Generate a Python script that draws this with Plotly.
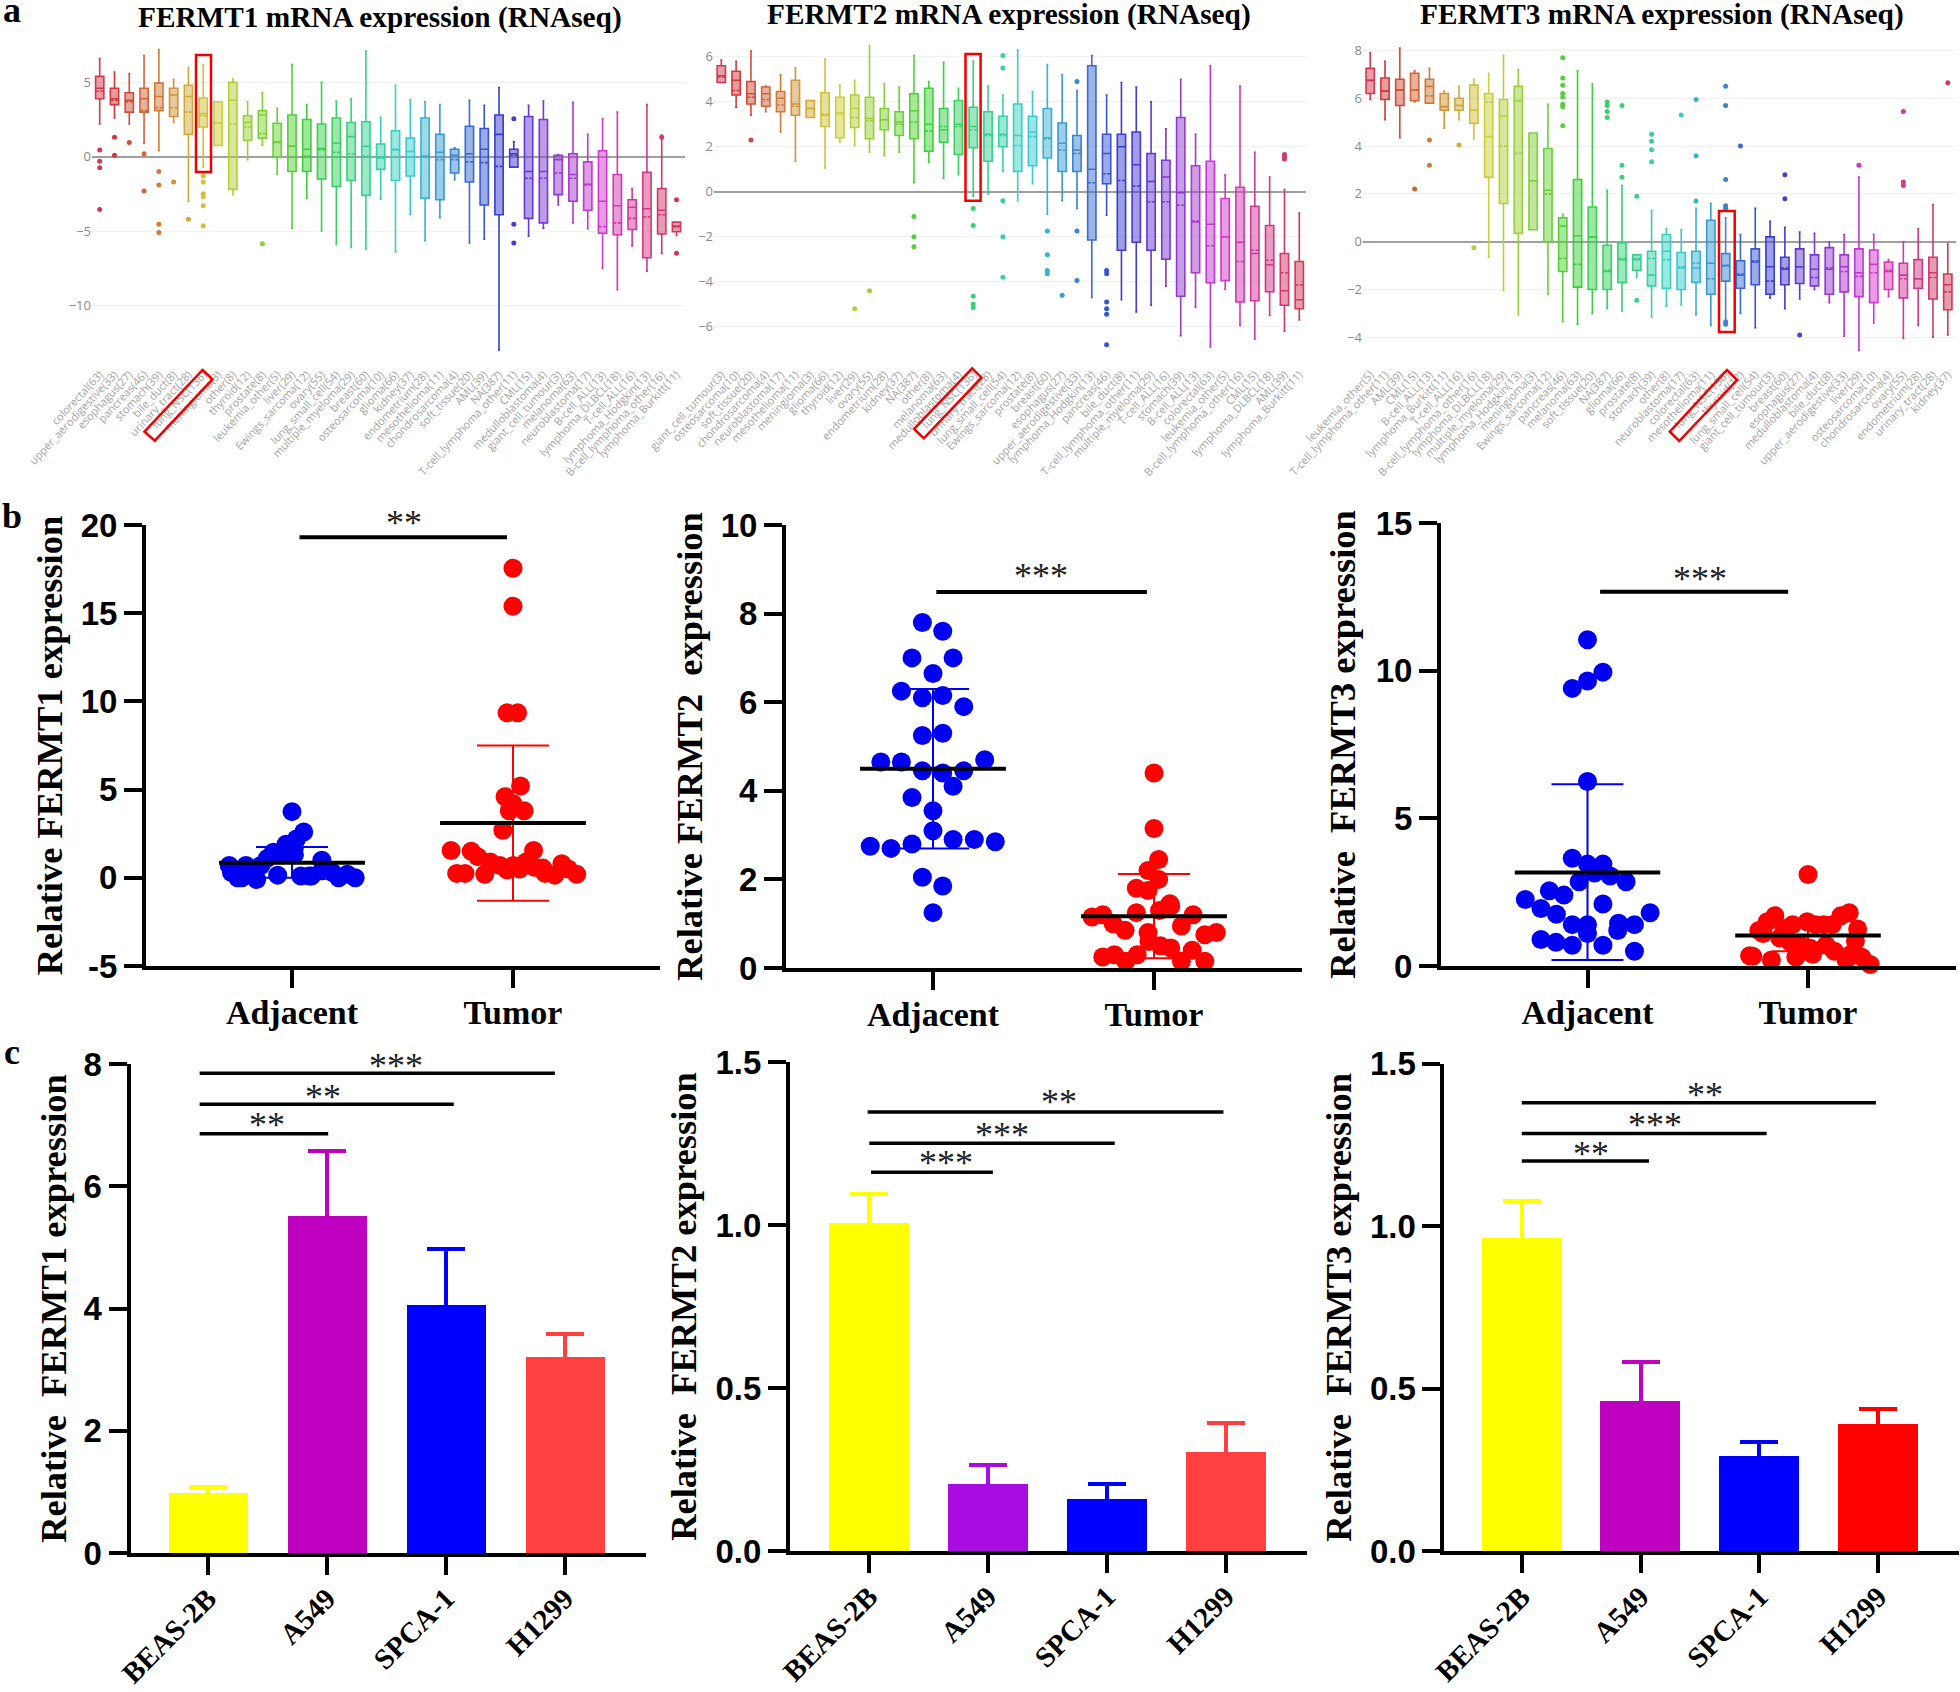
import plotly.graph_objects as go

W, H = 1960, 1692
SERIF = "Liberation Serif"
SANS = "Liberation Sans"

# ---------- panel a data ----------
a1_labels = ["colorectal(63)","upper_aerodigestive(33)","esophagus(27)","pancreas(46)","stomach(39)","bile_duct(8)","urinary_tract(28)","lung_NSC(136)","meningioma(3)","other(8)","thyroid(12)","prostate(8)","leukemia_other(5)","liver(29)","Ewings_sarcoma(12)","ovary(55)","lung_small_cell(54)","multiple_myeloma(29)","breast(60)","osteosarcoma(10)","glioma(66)","kidney(37)","endometrium(28)","mesothelioma(11)","chondrosarcoma(4)","soft_tissue(20)","AML(39)","NA(387)","T-cell_lymphoma_other(11)","CML(15)","medulloblastoma(4)","giant_cell_tumour(3)","melanoma(63)","neuroblastoma(17)","B-cell_ALL(13)","lymphoma_DLBCL(18)","T-cell_ALL(16)","lymphoma_Hodgkin(13)","B-cell_lymphoma_other(16)","lymphoma_Burkitt(11)"]
a1_upper = [6.6,5.7,5.6,6.8,7.2,5.2,6.0,6.2,3.7,5.25,3.7,4.3,3.25,6.2,3.5,5.0,3.75,3.9,7.1,2.65,4.8,3.85,3.7,3.5,0.6,3.8,3.45,4.65,1.0,3.45,3.75,0.15,3.65,1.5,2.55,3.0,-2.15,3.5,1.45,-4.4]
a1_q3 = [5.4,4.6,4.3,4.6,4.95,4.6,4.8,3.95,3.7,5.0,2.75,3.1,2.25,2.8,2.5,2.2,2.6,2.3,2.35,0.85,1.75,1.25,2.6,1.5,0.5,2.05,1.9,2.8,0.5,2.7,2.5,0.1,0.2,-0.35,0.4,-1.2,-2.9,-1.05,-2.15,-4.4]
a1_median = [4.6,3.9,3.8,3.9,4.05,4.15,4.05,2.9,2.25,3.8,2.3,2.8,1.0,0.7,0.5,0.55,0.9,1.35,0.7,0.0,0.5,0.35,0.05,0.3,0.1,0.2,0.5,1.5,0.2,-1.0,-1.0,-0.2,-1.2,-1.85,-3.0,-3.3,-3.4,-3.5,-3.6,-4.7]
a1_mean = [4.4,3.8,3.7,3.1,3.3,3.3,3.0,2.75,2.25,2.2,2.0,1.55,0.95,0.7,0.05,0.45,0.3,0.2,0.05,-0.1,0.45,0.0,0.0,-0.2,-0.2,-0.35,-0.4,-0.65,0.1,-1.45,-1.45,-1.1,-1.45,-1.9,-4.7,-4.45,-4.15,-4.05,-3.9,-4.65]
a1_q1 = [3.9,3.5,3.0,3.0,3.1,2.7,1.5,2.0,0.75,-2.2,1.1,1.25,-0.05,-1.0,-1.0,-1.5,-2.0,-1.6,-2.6,-0.85,-1.6,-1.3,-2.8,-2.9,-1.1,-1.7,-3.25,-3.9,-0.7,-4.15,-4.45,-2.55,-3.0,-3.6,-5.15,-5.25,-4.9,-6.8,-5.2,-5.05]
a1_lower = [2.2,2.6,2.2,0.9,0.4,2.3,-3.0,-0.7,0.75,-2.55,-0.2,0.75,-1.2,-4.8,-2.8,-5.0,-5.9,-6.1,-6.2,-2.85,-6.4,-3.9,-5.65,-4.1,-1.55,-5.8,-5.55,-13.0,-0.7,-5.35,-4.8,-3.25,-4.45,-4.85,-7.5,-8.95,-6.0,-7.7,-6.5,-5.3]
a1_out_idx = [0,0,0,0,1,1,2,3,3,4,4,4,4,5,6,7,7,7,7,7,7,11,28,28,28,38,39,39]
a1_out_val = [0.45,-0.3,-0.75,-3.55,1.3,0.1,0.95,0.2,-2.3,-1.0,-1.9,-4.55,-5.1,-1.7,-4.2,-1.3,-1.7,-2.5,-2.7,-3.3,-4.65,-5.85,2.55,-4.55,-5.8,1.3,-2.9,-6.5]

a2_labels = ["giant_cell_tumour(3)","osteosarcoma(10)","soft_tissue(20)","chondrosarcoma(4)","neuroblastoma(17)","mesothelioma(11)","meningioma(3)","glioma(66)","thyroid(12)","liver(29)","ovary(55)","endometrium(28)","kidney(37)","NA(387)","other(8)","melanoma(63)","medulloblastoma(4)","lung_NSC(136)","urinary_tract(28)","lung_small_cell(54)","Ewings_sarcoma(12)","prostate(8)","breast(60)","esophagus(27)","upper_aerodigestive(33)","lymphoma_Hodgkin(13)","pancreas(46)","bile_duct(8)","T-cell_lymphoma_other(11)","multiple_myeloma(29)","T-cell_ALL(16)","stomach(39)","B-cell_ALL(13)","colorectal(63)","leukemia_other(5)","B-cell_lymphoma_other(16)","CML(15)","lymphoma_DLBCL(18)","AML(39)","lymphoma_Burkitt(11)"]
a2_upper = [5.85,5.8,6.25,4.7,5.2,5.5,4.05,5.9,4.75,4.95,6.5,4.8,4.65,6.05,4.9,5.75,4.6,5.8,4.7,4.3,6.3,4.45,5.65,5.2,4.5,6.05,4.3,4.85,4.65,4.0,2.8,5.0,2.55,5.6,0.75,4.7,1.75,0.65,0.1,-0.95]
a2_q3 = [5.6,5.35,4.9,4.65,4.45,4.95,4.05,4.4,4.2,4.3,4.2,3.7,3.55,4.35,4.6,3.7,4.05,3.75,3.55,3.35,3.9,3.35,3.7,3.05,2.5,5.6,2.55,2.55,2.65,1.7,1.4,3.3,1.15,1.35,-0.3,0.2,-0.65,-1.5,-2.75,-3.1]
a2_median = [5.15,4.95,4.35,4.35,4.15,3.9,3.7,3.4,3.5,3.7,3.25,3.2,3.1,3.6,3.0,2.75,3.0,2.9,2.55,2.55,2.5,2.65,2.4,2.15,1.85,1.0,1.7,2.0,1.2,0.45,0.65,-0.05,-1.35,-1.45,-2.0,-2.25,-2.75,-3.25,-4.4,-4.8]
a2_mean = [5.1,4.5,4.2,4.1,3.85,3.8,3.7,3.45,3.45,3.3,3.15,3.2,3.0,3.1,2.7,2.9,2.9,2.75,2.5,2.5,2.05,2.45,2.35,1.85,1.7,0.4,0.8,0.5,0.25,-0.45,-0.45,-0.6,-1.3,-2.4,-2.0,-3.1,-2.6,-3.05,-3.6,-4.15]
a2_q1 = [4.85,4.3,3.9,3.8,3.55,3.4,3.3,2.9,2.4,2.85,2.35,2.75,2.5,2.35,1.8,2.2,1.65,1.95,1.35,2.0,0.9,1.15,1.5,0.9,0.9,-2.15,0.35,-2.6,-2.25,-2.6,-3.0,-4.65,-3.6,-4.05,-3.95,-4.9,-4.85,-4.45,-5.05,-5.2]
a2_lower = [4.85,3.75,3.4,3.55,2.65,1.35,3.3,1.05,2.2,2.05,1.75,1.6,1.75,0.4,1.3,0.6,0.75,-0.2,-0.1,0.9,-0.4,0.35,-1.0,-0.4,-0.75,-4.7,-1.05,-4.8,-5.35,-5.05,-4.2,-6.4,-5.15,-6.9,-4.35,-5.95,-6.55,-5.5,-6.2,-5.7]
a2_out_idx = [2,9,10,13,13,13,17,17,17,17,17,19,19,19,19,19,22,22,22,22,23,24,24,24,26,26,26,26,26,26,38,38,38]
a2_out_val = [2.3,-5.2,-4.4,-1.1,-2.0,-2.45,-0.75,-1.5,-4.65,-5.0,-5.15,6.05,5.5,-0.4,-2.0,-3.8,-1.75,-2.8,-3.5,-3.65,-4.6,4.9,-1.75,-3.95,-3.5,-3.65,-4.9,-5.2,-5.45,-6.8,1.65,1.55,1.45]

a3_labels = ["leukemia_other(5)","T-cell_lymphoma_other(11)","AML(39)","CML(15)","B-cell_ALL(13)","lymphoma_Burkitt(11)","T-cell_ALL(16)","B-cell_lymphoma_other(16)","lymphoma_DLBCL(18)","multiple_myeloma(29)","lymphoma_Hodgkin(13)","meningioma(3)","Ewings_sarcoma(12)","pancreas(46)","melanoma(63)","soft_tissue(20)","NA(387)","glioma(66)","prostate(8)","stomach(39)","other(8)","neuroblastoma(17)","colorectal(63)","mesothelioma(11)","lung_NSC(136)","thyroid(12)","lung_small_cell(54)","giant_cell_tumour(3)","breast(60)","esophagus(27)","medulloblastoma(4)","bile_duct(8)","upper_aerodigestive(33)","liver(29)","osteosarcoma(10)","chondrosarcoma(4)","ovary(55)","endometrium(28)","urinary_tract(28)","kidney(37)"]
a3_upper = [7.9,7.55,8.1,7.15,7.25,6.3,6.5,6.8,7.05,7.8,7.2,4.55,5.75,1.15,7.15,6.6,2.15,2.35,-0.55,1.3,0.55,0.5,1.4,1.6,1.0,0.3,1.4,0.85,0.6,0.4,0.35,0.0,0.3,2.7,0.3,-0.75,0.0,0.55,1.55,-0.1]
a3_q3 = [7.25,6.85,6.8,7.05,6.8,6.2,6.0,6.55,6.2,5.95,6.5,4.55,3.9,1.0,2.6,1.45,-0.15,-0.05,-0.55,-0.4,0.3,-0.45,-0.4,0.9,-0.5,-0.8,-0.3,0.2,-0.65,-0.3,-0.55,-0.25,-0.55,-0.3,-0.35,-0.85,-0.9,-0.75,-0.65,-1.35]
a3_median = [6.75,6.3,6.35,6.35,6.5,5.65,5.7,5.5,4.4,5.25,5.9,2.55,2.15,0.65,0.25,0.2,-1.25,-0.75,-0.75,-1.4,-0.4,-1.1,-1.1,-0.9,-1.0,-1.4,-0.85,-1.05,-1.15,-1.05,-1.15,-1.15,-1.05,-1.3,-0.95,-1.25,-1.4,-1.55,-1.3,-1.8]
a3_mean = [6.75,6.3,6.35,6.35,6.1,5.65,5.7,5.5,5.85,4.0,3.7,2.55,2.0,-0.7,-0.95,0.2,-1.2,-0.7,-0.7,-0.7,-0.75,-1.05,-0.9,-1.55,-1.0,-1.35,-0.8,-1.65,-1.1,-1.05,-1.5,-1.1,-1.25,-1.45,-1.3,-1.2,-1.55,-1.55,-1.5,-2.1]
a3_q1 = [6.2,5.95,5.7,5.9,5.8,5.5,5.5,4.95,2.7,1.6,0.35,0.5,0.0,-1.25,-1.9,-2.0,-2.0,-1.7,-1.2,-1.85,-1.95,-2.0,-1.7,-2.2,-1.65,-1.95,-1.8,-2.2,-1.8,-1.75,-1.85,-2.2,-2.1,-2.3,-2.55,-2.0,-2.35,-1.95,-2.4,-2.85]
a3_lower = [5.95,5.1,4.35,5.85,5.8,4.75,5.1,4.3,-0.65,-2.05,-3.05,0.5,-2.2,-3.35,-3.45,-3.0,-2.8,-2.9,-1.5,-3.15,-2.7,-2.65,-3.05,-3.5,-3.3,-3.0,-3.6,-2.35,-2.8,-2.4,-2.0,-2.55,-3.95,-4.55,-3.4,-2.3,-4.05,-3.5,-4.0,-3.9]
a3_out_idx = [3,4,4,6,7,13,13,13,13,13,13,13,13,16,16,16,16,17,17,17,18,18,19,19,19,19,21,22,22,22,24,24,24,24,24,24,24,25,28,28,29,33,36,36,36,39]
a3_out_val = [2.2,4.25,3.2,4.05,-0.25,7.7,6.85,6.55,6.2,6.05,5.75,5.65,4.85,5.85,5.7,5.45,5.2,5.7,3.2,2.7,1.9,-2.45,4.5,4.2,3.85,3.35,5.3,5.95,3.6,1.7,6.5,5.7,2.6,1.5,1.4,-3.35,-3.45,4.0,2.8,1.8,-3.9,3.2,5.45,2.5,2.35,6.65]

# ---------- panel b data ----------
b_groups = ["Adjacent", "Tumor"]
b1_adj_off = [0,.053,.02,-.027,.011,-.084,.011,-.112,-.046,.135,-.284,-.208,-.16,-.274,-.246,-.227,-.16,-.065,.04,.078,.135,.183,.211,.25,.286,-.141,-.255,-.198,.088,-.008]
b1_adj_val = [3.75,2.6,2.2,1.9,1.7,1.45,1.3,1.1,1.3,1.0,.7,.7,.5,.3,0,0,-.1,.15,.1,.1,.4,.3,0,.2,0,.7,.2,.3,.1,1.6]
b1_tum_off = [0,0,-.027,.021,.034,-.036,0,-.017,.05,-.046,-.28,-.189,.093,-.16,-.103,.059,-.059,-.255,-.217,-.128,-.027,.03,.135,.097,.221,.25,.189,.145,.288,.002]
b1_tum_val = [17.55,15.4,9.35,9.35,5.2,4.6,4.2,3.8,3.8,2.7,1.55,1.5,1.55,1.2,.9,.9,.7,.25,.25,.2,.45,.5,.55,.6,.8,.5,.15,.25,.2,.7]
b1_mean = [0.85, 3.1]
b1_hi = [1.75, 7.5]
b1_lo = [0.0, -1.3]
b1_sig = [1.034, 1.973, 19.3]

b2_adj_off = [-.048,.044,-.095,.091,0,-.143,-.048,.044,.139,-.048,.044,-.236,-.143,.234,-.048,.044,.139,.091,-.095,0,0,.091,.187,.282,-.095,-.284,-.19,-.048,.044,0]
b2_adj_val = [7.8,7.6,7,7,6.65,6.25,6.1,6.15,5.9,5.25,5.3,4.65,4.65,4.7,4.45,4.4,4.45,4.1,3.85,3.55,3.1,2.9,2.9,2.85,2.8,2.75,2.7,2.05,1.85,1.25]
b2_tum_off = [0,0,.021,-.027,.021,-.08,-.027,.072,.025,-.08,-.28,-.232,-.185,-.131,.177,.124,-.027,.23,.282,-.023,.029,.076,-.232,-.179,-.128,-.076,.173,.124,.23,.076]
b2_tum_val = [4.4,3.15,2.45,2.2,2,1.8,1.75,1.45,1.3,1.25,1.15,1.2,1,.85,1.2,.95,.8,.75,.8,.6,.5,.45,.25,.3,.15,.3,.4,.15,.15,1.4]
b2_mean = [4.5, 1.17]
b2_hi = [6.3, 2.12]
b2_lo = [2.7, 0.22]
b2_sig = [1.015, 1.968, 8.49]

b3_adj_off = [0,.07,0,-.069,0,-.069,0,.07,.032,.103,-.038,.175,-.173,-.107,-.282,.07,-.211,-.141,.284,-.069,0,.141,.213,.137,0,-.211,-.143,-.069,.07,.213]
b3_adj_val = [11.05,9.95,9.65,9.4,6.25,3.65,3.45,3.45,3.15,3.05,2.85,2.85,2.55,2.4,2.25,2.1,1.95,1.75,1.8,1.4,1.4,1.45,1.4,1.2,1.1,.9,.8,.7,.7,.5]
b3_tum_off = [0,-.15,.187,.149,-.185,-.004,-.223,-.07,.072,.11,.225,-.204,-.109,.034,-.128,.215,-.08,.082,-.032,.01,.12,.196,-.265,-.055,.021,-.166,.173,.282,-.251,.244]
b3_tum_val = [3.1,1.7,1.8,1.7,1.5,1.5,1.2,1.4,1.4,1.4,1.25,1.1,1.25,1.4,.95,.85,.8,.7,.7,.6,.5,.4,.35,.3,.4,.2,.2,.05,.33,.3]
b3_mean = [3.17, 1.03]
b3_hi = [6.15, 1.55]
b3_lo = [0.2, 0.5]
b3_sig = [1.057, 1.91, 12.67]

# ---------- panel c data ----------
c_lines = ["BEAS-2B", "A549", "SPCA-1", "H1299"]
c1_vals = [0.98, 5.51, 4.06, 3.21]
c1_err = [0.10, 1.07, 0.92, 0.37]
c1_cols = ["#FFFF00", "#C000C0", "#0000FF", "#FF4040"]
c1_sig = [[-.07, 1.01, 6.86], [-.07, 2.065, 7.34], [-.07, 2.915, 7.85]]
c2_vals = [1.005, 0.207, 0.16, 0.304]
c2_err = [0.09, 0.057, 0.047, 0.089]
c2_cols = ["#FFFF00", "#A80CE0", "#0000FF", "#FF4040"]
c2_sig = [[.014, 1.04, 1.162], [0, 2.065, 1.251], [-.014, 2.98, 1.347]]
c3_vals = [0.964, 0.465, 0.296, 0.393]
c3_err = [0.114, 0.116, 0.041, 0.046]
c3_cols = ["#FFFF00", "#C000C0", "#0000FF", "#FF0000"]
c3_sig = [[0, 1.07, 1.2], [0, 2.06, 1.285], [0, 2.98, 1.379]]

fig = go.Figure()
layout = dict(width=W, height=H, margin=dict(l=0, r=0, t=0, b=0), autosize=False,
              paper_bgcolor="white", plot_bgcolor="white", showlegend=False,
              boxmode="overlay", bargap=0)
annotations, shapes = [], []


def axrange(pa, pb, p0, v0, p1, v1):
    k = (v1 - v0) / (p1 - p0)
    return [v0 + (pa - p0) * k, v0 + (pb - p0) * k]


def px(x):
    return x / W


def py(y):
    return 1 - y / H


def text(x, y, s, size, color="black", family=SERIF, weight=700, **kw):
    annotations.append(dict(x=px(x), y=py(y), xref="paper", yref="paper", text=s, showarrow=False,
                            xanchor="center", yanchor="middle",
                            font=dict(family=family, size=size, color=color, weight=weight), **kw))


n = 0


def new_axes():
    global n
    n += 1
    s = "" if n == 1 else str(n)
    return "x" + s, "y" + s, "xaxis" + s, "yaxis" + s


# ---------- panel a ----------
def panel_a(labels, upper, q3, med, mean, q1, lower, out_idx, out_val, box0, step, left, right,
            y0, unit, top, bottom, ticks, title, title_x, title_y, col_rect, lab_rect):
    xa, ya, xk, yk = new_axes()
    cols = ["hsl(%d,62%%,52%%)" % ((350 + 9.2 * i) % 360) for i in range(len(labels))]
    for i, lab in enumerate(labels):
        fig.add_trace(go.Box(x=[lab], q1=[q1[i]], median=[med[i]], q3=[q3[i]], mean=[mean[i]],
                             lowerfence=[lower[i]], upperfence=[upper[i]], boxpoints=False, boxmean=True,
                             width=0.56, whiskerwidth=0.25, line=dict(color=cols[i], width=1.6),
                             xaxis=xa, yaxis=ya, hoverinfo="skip"))
    fig.add_trace(go.Scatter(x=[labels[i] for i in out_idx], y=out_val, mode="markers",
                             marker=dict(size=5, color=[cols[i] for i in out_idx]), xaxis=xa, yaxis=ya))
    layout[xk] = dict(domain=[px(left), px(right)], anchor=ya, type="category", categoryorder="array",
                      categoryarray=labels, range=[(left - box0) / step, (right - box0) / step],
                      tickmode="array", tickvals=labels, ticktext=labels, tickangle=-47,
                      tickfont=dict(family="Open Sans", size=11, color="#a3a3a3"), showgrid=False,
                      showline=False, ticks="", zeroline=False, automargin=False)
    layout[yk] = dict(domain=[py(bottom), py(top)], anchor=xa,
                      range=axrange(bottom, top, y0, 0, y0 - unit, 1), tickmode="array", tickvals=ticks,
                      tickfont=dict(family="Open Sans", size=13, color="#8a8a8a"), showgrid=True,
                      gridcolor="#f1f1f1", gridwidth=1, zeroline=True, zerolinecolor="#a0a0a0",
                      zerolinewidth=2, showline=False, ticks="", automargin=False)
    text(title_x, title_y, title, 29.3)
    shapes.append(dict(type="rect", xref="paper", yref="paper", x0=px(col_rect[0]), x1=px(col_rect[1]),
                       y0=py(col_rect[2]), y1=py(col_rect[3]), line=dict(color="#F00000", width=2.5),
                       fillcolor="rgba(0,0,0,0)"))
    path = "M " + " L ".join("%.5f %.5f" % (px(a), py(b)) for a, b in lab_rect) + " Z"
    shapes.append(dict(type="path", xref="paper", yref="paper", path=path,
                       line=dict(color="#F00000", width=2.5)))


panel_a(a1_labels, a1_upper, a1_q3, a1_median, a1_mean, a1_q1, a1_lower, a1_out_idx, a1_out_val,
        99.7, 14.79, 92, 685, 156.7, 14.87, 40, 365, [-10, -5, 0, 5], "FERMT1 mRNA expression (RNAseq)", 380, 17,
        (196, 211, 55, 172), [(202.5, 370), (212.5, 379.3), (154.8, 440.7), (144.4, 431.7)])
panel_a(a2_labels, a2_upper, a2_q3, a2_median, a2_mean, a2_q1, a2_lower, a2_out_idx, a2_out_val,
        721.3, 14.82, 714, 1306, 191.7, 22.5, 40, 365, [-6, -4, -2, 0, 2, 4, 6], "FERMT2 mRNA expression (RNAseq)", 1009, 15,
        (965.5, 980.6, 54, 200.7), [(972.2, 368.3), (981.5, 377.7), (923.8, 438.3), (914.1, 429)])
panel_a(a3_labels, a3_upper, a3_q3, a3_median, a3_mean, a3_q1, a3_lower, a3_out_idx, a3_out_val,
        1370.2, 14.81, 1363, 1956, 241.7, 23.9, 40, 365, [-4, -2, 0, 2, 4, 6, 8], "FERMT3 mRNA expression (RNAseq)", 1662, 15,
        (1719, 1734.7, 211, 332), [(1726.9, 370), (1737.1, 380), (1679.2, 441), (1669.8, 431.7)])

AX = dict(showline=True, linecolor="black", linewidth=4, ticks="outside", tickcolor="black", tickwidth=4,
          ticklen=18, showgrid=False, zeroline=False, automargin=False)


# ---------- panel b ----------
def panel_b(adj_off, adj_val, tum_off, tum_val, mean, hi, lo, sig, left, right, tick1, tick2, top, bottom,
            yticks, title, standoff, star):
    xa, ya, xk, yk = new_axes()
    groups = [(adj_off, adj_val, "#0000F0"), (tum_off, tum_val, "#FF0000")]
    for g, (off, val, col) in enumerate(groups):
        c = g + 1
        fig.add_trace(go.Scatter(x=[c + o for o in off], y=val, mode="markers", cliponaxis=False,
                                 marker=dict(size=19, color=col), xaxis=xa, yaxis=ya))
        fig.add_trace(go.Scatter(x=[c], y=[mean[g]], mode="markers", marker=dict(size=1, color=col, opacity=0),
                                 cliponaxis=False, xaxis=xa, yaxis=ya,
                                 error_y=dict(type="data", symmetric=False, array=[hi[g] - mean[g]],
                                              arrayminus=[mean[g] - lo[g]], color=col, thickness=2, width=36)))
        fig.add_trace(go.Scatter(x=[c - .33, c + .33], y=[mean[g], mean[g]], mode="lines", cliponaxis=False,
                                 line=dict(color="black", width=4), xaxis=xa, yaxis=ya))
    fig.add_trace(go.Scatter(x=sig[:2], y=[sig[2], sig[2]], mode="lines", line=dict(color="black", width=4),
                             cliponaxis=False, xaxis=xa, yaxis=ya))
    layout[xk] = dict(AX, domain=[px(left), px(right)], anchor=ya,
                      range=axrange(left, right, tick1, 1, tick2, 2), tickmode="array", tickvals=[1, 2],
                      ticktext=b_groups, ticklabelstandoff=-5,
                      tickfont=dict(family=SERIF, size=34, color="black", weight=700))
    layout[yk] = dict(AX, domain=[py(bottom), py(top)], anchor=xa, range=[yticks[0], yticks[-1]],
                      tickmode="array", tickvals=yticks, ticktext=[str(t) for t in yticks],
                      tickfont=dict(family=SANS, size=33, color="black", weight=700),
                      title=dict(text=title, standoff=standoff,
                                 font=dict(family=SERIF, size=36.5, color="black", weight=700)))
    text(star[0], star[1], star[2], 36, color="#222222", weight=400)


panel_b(b1_adj_off, b1_adj_val, b1_tum_off, b1_tum_val, b1_mean, b1_hi, b1_lo, b1_sig, 146, 660, 292, 513,
        525, 966, [-5, 0, 5, 10, 15, 20], "Relative FERMT1 expression", 8, (404, 523, "**"))
panel_b(b2_adj_off, b2_adj_val, b2_tum_off, b2_tum_val, b2_mean, b2_hi, b2_lo, b2_sig, 786, 1302, 933, 1154,
        525, 968, [0, 2, 4, 6, 8, 10], "Relative FERMT2\u00a0 expression", 8, (1041.4, 576, "***"))
panel_b(b3_adj_off, b3_adj_val, b3_tum_off, b3_tum_val, b3_mean, b3_hi, b3_lo, b3_sig, 1441, 1956, 1587.5, 1808,
        523, 966, [0, 5, 10, 15], "Relative\u00a0 FERMT3 expression", 10, (1699.8, 579, "***"))


# ---------- panel c ----------
def panel_c(vals, err, cols, sig, left, right, bar0, bar3, top, bottom, yrange, dtick, tickformat, title, standoff, stars):
    xa, ya, xk, yk = new_axes()
    for i, v in enumerate(vals):
        fig.add_trace(go.Bar(x=[i], y=[v], width=0.67, marker=dict(color=cols[i], line=dict(width=0)), xaxis=xa, yaxis=ya,
                             error_y=dict(type="data", array=[err[i]], color=cols[i], thickness=4, width=19)))
    for a, b, lev in sig:
        fig.add_trace(go.Scatter(x=[a, b], y=[lev, lev], mode="lines", line=dict(color="black", width=3.5),
                                 cliponaxis=False, xaxis=xa, yaxis=ya))
    layout[xk] = dict(AX, domain=[px(left), px(right)], anchor=ya,
                      range=axrange(left, right, bar0, 0, bar3, 3), tickmode="array", tickvals=[0, 1, 2, 3],
                      ticktext=c_lines, tickangle=-45, ticklabelstandoff=-5,
                      tickfont=dict(family=SERIF, size=29, color="black", weight=700))
    layout[yk] = dict(AX, domain=[py(bottom), py(top)], anchor=xa, range=yrange, dtick=dtick, tick0=0,
                      tickformat=tickformat,
                      tickfont=dict(family=SANS, size=33, color="black", weight=700),
                      title=dict(text=title, standoff=standoff,
                                 font=dict(family=SERIF, size=36.5, color="black", weight=700)))
    for sx, sy, st in stars:
        text(sx, sy, st, 36, color="#222222", weight=400)


panel_c(c1_vals, c1_err, c1_cols, c1_sig, 130.5, 646, 208, 565, 1064, 1553, [0, 8], 2, "d",
        "Relative\u00a0 FERMT1 expression", 7, [(267, 1125, "**"), (323, 1097, "**"), (395.6, 1066, "***")])
panel_c(c2_vals, c2_err, c2_cols, c2_sig, 790, 1306.6, 869.3, 1225.8, 1062, 1551, [0, 1.5], 0.5, ".1f",
        "Relative\u00a0 FERMT2 expression", 9, [(945.5, 1163, "***"), (1001.8, 1135, "***"), (1059, 1102, "**")])
panel_c(c3_vals, c3_err, c3_cols, c3_sig, 1444.4, 1958.7, 1521.8, 1878.3, 1063.5, 1551.3, [0, 1.5], 0.5, ".1f",
        "Relative\u00a0 FERMT3 expression", 8, [(1591.2, 1154, "**"), (1654.8, 1125, "***"), (1705.3, 1095, "**")])

text(12, 10, "a", 36)
text(12, 516, "b", 36)
text(12, 1052, "c", 36)

layout["annotations"] = annotations
layout["shapes"] = shapes
fig.update_layout(**layout)
fig.write_html("out.html", config={"displayModeBar": False}, post_script="document.body.style.margin='0';")
